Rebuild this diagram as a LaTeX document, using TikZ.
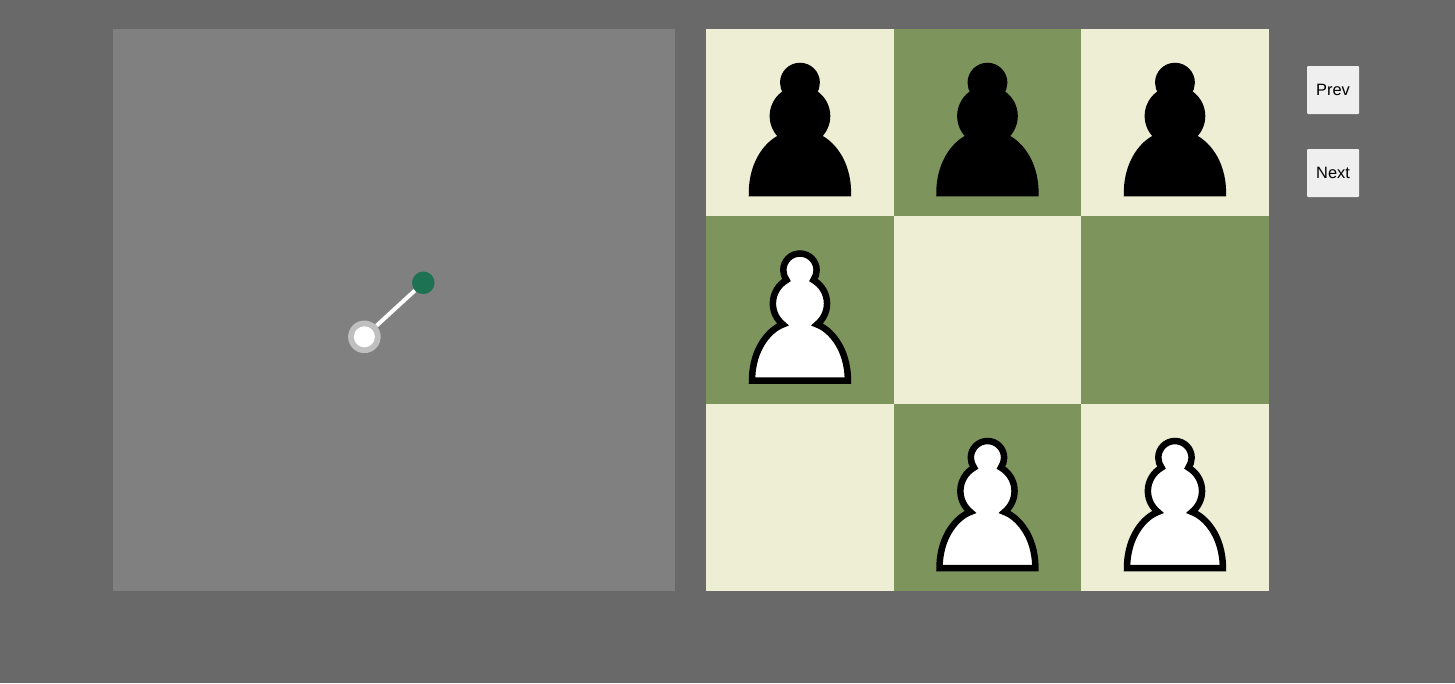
\documentclass[tikz,border=0pt]{standalone}
\usepackage{fontspec}
\setmainfont{Liberation Sans}
\definecolor{pagegray}{HTML}{696969}
\definecolor{panelgray}{HTML}{808080}
\definecolor{lightsq}{HTML}{EEEED5}
\definecolor{darksq}{HTML}{7D945D}
\definecolor{ringgray}{HTML}{BFBFBF}
\definecolor{tipgreen}{HTML}{1D7254}
\definecolor{btngray}{HTML}{EFEFEF}
\newcommand{\pawnpath}{(22.5, 9) .. controls (20.29, 9) and (18.5, 10.79) .. (18.5, 13) .. controls (18.5, 13.89) and (18.79, 14.71) .. (19.28, 15.38) .. controls (17.33, 16.5) and (16, 18.59) .. (16, 21) .. controls (16, 23.03) and (16.94, 24.84) .. (18.41, 26.03) .. controls (15.41, 27.09) and (11, 31.58) .. (11, 39.5) -- (34, 39.5) .. controls (34, 31.58) and (29.59, 27.09) .. (26.59, 26.03) .. controls (28.06, 24.84) and (29, 23.03) .. (29, 21) .. controls (29, 18.59) and (27.67, 16.5) .. (25.72, 15.38) .. controls (26.21, 14.71) and (26.5, 13.89) .. (26.5, 13) .. controls (26.5, 10.79) and (24.71, 9) .. (22.5, 9) -- cycle}
\tikzset{
  pawnline/.style={draw=black, line width=6.5, line join=miter, miter limit=4, x=4.1667pt, y=-4.1667pt},
  btn/.style={fill=btngray, rounded corners=1, minimum width=52, minimum height=48, inner sep=0, font=\fontsize{16.4}{18}\selectfont},
}
\begin{document}
\begin{tikzpicture}[x=1pt, y=-1pt]
\useasboundingbox (0, 0) rectangle (1455, 683);
\fill[pagegray] (0, 0) rectangle (1455, 683);

\fill[panelgray] (113, 29) rectangle (675, 591);
\node[circle, fill=ringgray, minimum size=32.6, inner sep=0] (knob) at (364.4, 336.8) {};
\node[circle, fill=tipgreen, minimum size=22.6, inner sep=0] (tip) at (423.3, 282.8) {};
\draw[white, line width=4] (knob) -- (tip);
\fill[white] (knob.center) circle (10.5);

\fill[lightsq] (706, 29) rectangle (894, 216);
\fill[darksq] (894, 29) rectangle (1081, 216);
\fill[lightsq] (1081, 29) rectangle (1269, 216);
\fill[darksq] (706, 216) rectangle (894, 404);
\fill[lightsq] (894, 216) rectangle (1081, 404);
\fill[darksq] (1081, 216) rectangle (1269, 404);
\fill[lightsq] (706, 404) rectangle (894, 591);
\fill[darksq] (894, 404) rectangle (1081, 591);
\fill[lightsq] (1081, 404) rectangle (1269, 591);

\draw[shift={(706.2, 28.5)}, pawnline, fill=black] \pawnpath;
\draw[shift={(893.7, 28.5)}, pawnline, fill=black] \pawnpath;
\draw[shift={(1081.2, 28.5)}, pawnline, fill=black] \pawnpath;

\draw[shift={(706.2, 216)}, pawnline, fill=white] \pawnpath;

\draw[shift={(893.7, 403.5)}, pawnline, fill=white] \pawnpath;
\draw[shift={(1081.2, 403.5)}, pawnline, fill=white] \pawnpath;

\node[btn] (prev) at (1333, 90) {Prev};
\node[btn] (next) at (1333, 173) {Next};

\end{tikzpicture}
\end{document}
